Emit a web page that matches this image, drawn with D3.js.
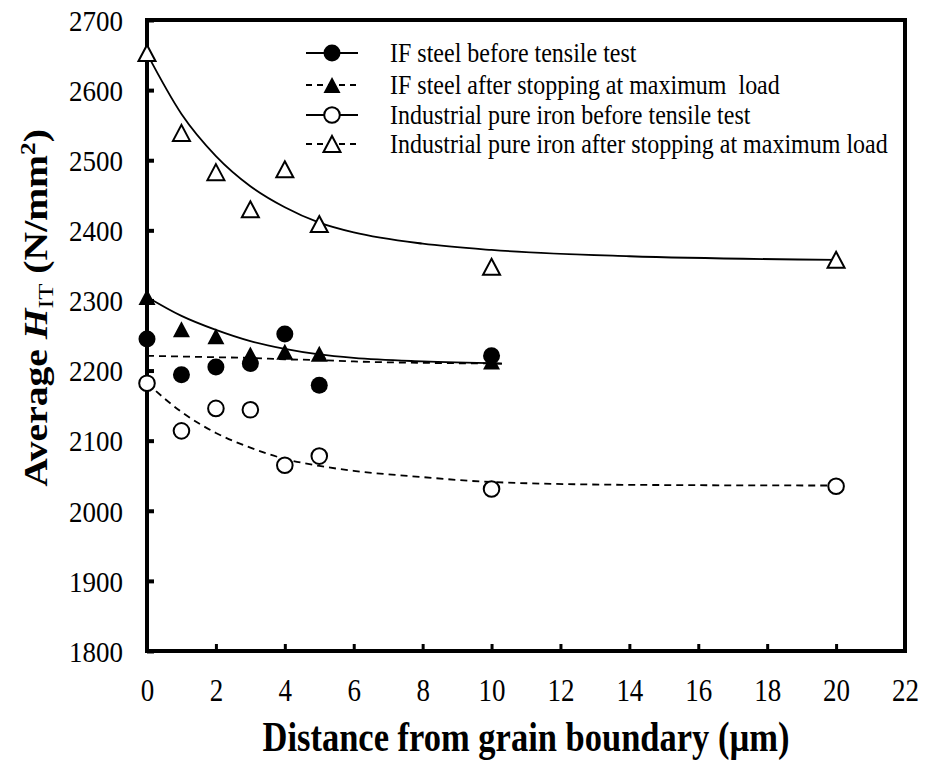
<!DOCTYPE html>
<html><head><meta charset="utf-8">
<script src="https://cdn.jsdelivr.net/npm/d3@7"></script>
<style>
body{margin:0;background:#fff}
svg{display:block}
text{font-family:"Liberation Serif","Times New Roman",serif;fill:#000}
</style>
</head><body>
<svg id="chart" width="925" height="762"></svg>
<script>
// Measured hardness by distance from the grain boundary (µm)
const distanceIF = [0, 1, 2, 3, 4, 5, 10];
const distancePure = [0, 1, 2, 3, 4, 5, 10, 20];
const ifBefore = [2245, 2194, 2205, 2210, 2252, 2179, 2221];
const ifAfter = [2305, 2259, 2249, 2223, 2227, 2224, 2213];
const pureBefore = [2182, 2114, 2146, 2144, 2065, 2078, 2031, 2035];
const pureAfter = [2653, 2539, 2483, 2430, 2487, 2409, 2348, 2358];

// Trend lines drawn through the data
const trendXIF = [0, 1, 2, 3, 4, 5, 6, 8, 10.3];
const ifBeforeTrend = [2221, 2220, 2219, 2218, 2216, 2215, 2213, 2211, 2210];
const ifAfterTrend = [2305, 2278, 2258, 2242, 2231, 2223, 2218, 2213, 2210];
const trendXPure = [0, 1, 2, 3, 4, 5, 6, 8, 10, 14, 20];
const pureBeforeTrend = [2182, 2141, 2111, 2090, 2074, 2064, 2057, 2048, 2041, 2037, 2036];
const pureAfterTrend = [2652, 2566, 2506, 2463, 2433, 2411, 2397, 2381, 2372, 2363, 2358];

const xTicks = [0, 2, 4, 6, 8, 10, 12, 14, 16, 18, 20, 22];
const yTicks = [1800, 1900, 2000, 2100, 2200, 2300, 2400, 2500, 2600, 2700];

const legendLabels = [
  "IF steel before tensile test",
  "IF steel after stopping at maximum  load",
  "Industrial pure iron before tensile test",
  "Industrial pure iron after stopping at maximum load"
];

const serif = '"Liberation Serif","Times New Roman",serif';
const svg = d3.select("#chart");
const plotLeft = 147, plotRight = 905, plotTop = 20, plotBottom = 651;
const x = d3.scaleLinear().domain([0, 22]).range([plotLeft, plotRight]);
const y = d3.scaleLinear().domain([1800, 2700]).range([plotBottom, plotTop]);

// axes with inward ticks
const yAxis = svg.append("g").attr("transform", `translate(${plotLeft},0)`)
  .call(d3.axisLeft(y).tickValues(yTicks).tickSize(-7).tickPadding(24).tickFormat(d3.format("d")));
yAxis.select(".domain").remove();
yAxis.attr("font-family", serif);
yAxis.selectAll("line").attr("stroke", "#000").attr("stroke-width", 4);
yAxis.selectAll("text").style("font-family", serif).style("font-size", "27px")
  .attr("dy", "0.34em").attr("transform", "scale(1,1.12)");

const xAxis = svg.append("g").attr("transform", `translate(0,${plotBottom})`)
  .call(d3.axisBottom(x).tickValues(xTicks).tickSize(-7).tickPadding(28).tickFormat(d3.format("d")));
xAxis.select(".domain").remove();
xAxis.attr("font-family", serif);
xAxis.selectAll("line").attr("stroke", "#000").attr("stroke-width", 3);
xAxis.selectAll("text").style("font-family", serif).style("font-size", "27px")
  .attr("y", 50 / 1.15).attr("dy", 0).attr("transform", "scale(1,1.15)");

// frame
svg.append("rect").attr("x", plotLeft).attr("y", plotTop)
  .attr("width", plotRight - plotLeft).attr("height", plotBottom - plotTop)
  .attr("fill", "none").attr("stroke", "#000").attr("stroke-width", 4);

// trend lines
const line = d3.line().curve(d3.curveMonotoneX);
function trend(xs, ys, dashed) {
  svg.append("path")
    .attr("d", line(xs.map((d, i) => [x(d), y(ys[i])])))
    .attr("fill", "none").attr("stroke", "#000").attr("stroke-width", 1.8)
    .attr("stroke-dasharray", dashed ? "7,5" : null);
}
trend(trendXPure, pureAfterTrend, false);
trend(trendXIF, ifAfterTrend, false);
trend(trendXIF, ifBeforeTrend, true);
trend(trendXPure, pureBeforeTrend, true);

// markers
function triPath(cx, cy) {
  const w = 8.5, h = 8;
  return `M${cx},${cy - h}L${cx + w},${cy + h}L${cx - w},${cy + h}Z`;
}
function circles(xs, ys, filled) {
  svg.append("g").selectAll("circle").data(xs).join("circle")
    .attr("cx", d => x(d)).attr("cy", (d, i) => y(ys[i])).attr("r", filled ? 8.5 : 7.8)
    .attr("fill", filled ? "#000" : "#fff").attr("stroke", "#000").attr("stroke-width", filled ? 0 : 2);
}
function triangles(xs, ys, filled) {
  svg.append("g").selectAll("path").data(xs).join("path")
    .attr("d", (d, i) => triPath(x(d), y(ys[i])))
    .attr("fill", filled ? "#000" : "#fff").attr("stroke", "#000").attr("stroke-width", filled ? 0 : 2)
    .attr("stroke-linejoin", "miter");
}
triangles(distancePure, pureAfter, false);
triangles(distanceIF, ifAfter, true);
circles(distanceIF, ifBefore, true);
circles(distancePure, pureBefore, false);

// legend
const legendRows = [53, 85, 115, 144];
const legendKinds = [
  {shape: "circle", filled: true, dashed: false},
  {shape: "tri", filled: true, dashed: true},
  {shape: "circle", filled: false, dashed: false},
  {shape: "tri", filled: false, dashed: true}
];
const lg = svg.append("g");
legendKinds.forEach((k, i) => {
  const cy = legendRows[i];
  lg.append("line").attr("x1", 306).attr("x2", 358).attr("y1", cy).attr("y2", cy)
    .attr("stroke", "#000").attr("stroke-width", 1.8)
    .attr("stroke-dasharray", k.dashed ? "6,5" : null);
  if (k.shape === "circle") {
    lg.append("circle").attr("cx", 332).attr("cy", cy).attr("r", k.filled ? 8.5 : 7.8)
      .attr("fill", k.filled ? "#000" : "#fff").attr("stroke", "#000").attr("stroke-width", k.filled ? 0 : 2);
  } else {
    lg.append("path").attr("d", triPath(332, cy))
      .attr("fill", k.filled ? "#000" : "#fff").attr("stroke", "#000").attr("stroke-width", k.filled ? 0 : 2);
  }
  lg.append("text").attr("transform", `translate(390,${cy}) scale(1,1.1)`).attr("dy", "0.33em")
    .style("font-size", "24px").style("white-space", "pre").text(legendLabels[i]);
});

// axis titles
svg.append("text").attr("transform", `translate(${(plotLeft + plotRight) / 2},751) scale(1,1.2)`)
  .attr("text-anchor", "middle").style("font-size", "34.5px").style("font-weight", "bold")
  .text("Distance from grain boundary (µm)");

const yt = svg.append("text").attr("transform", "translate(47,308) rotate(-90) scale(1.2,1)")
  .attr("text-anchor", "middle").style("font-size", "33px").style("font-weight", "bold");
yt.append("tspan").text("Average ");
yt.append("tspan").style("font-style", "italic").text("H");
yt.append("tspan").attr("dy", 6).style("font-size", "22px").style("font-weight", "normal").text("IT");
yt.append("tspan").attr("dy", -6).text(" (N/mm");
yt.append("tspan").attr("dy", -12).style("font-size", "21px").text("2");
yt.append("tspan").attr("dy", 12).text(")");
</script>
</body></html>
